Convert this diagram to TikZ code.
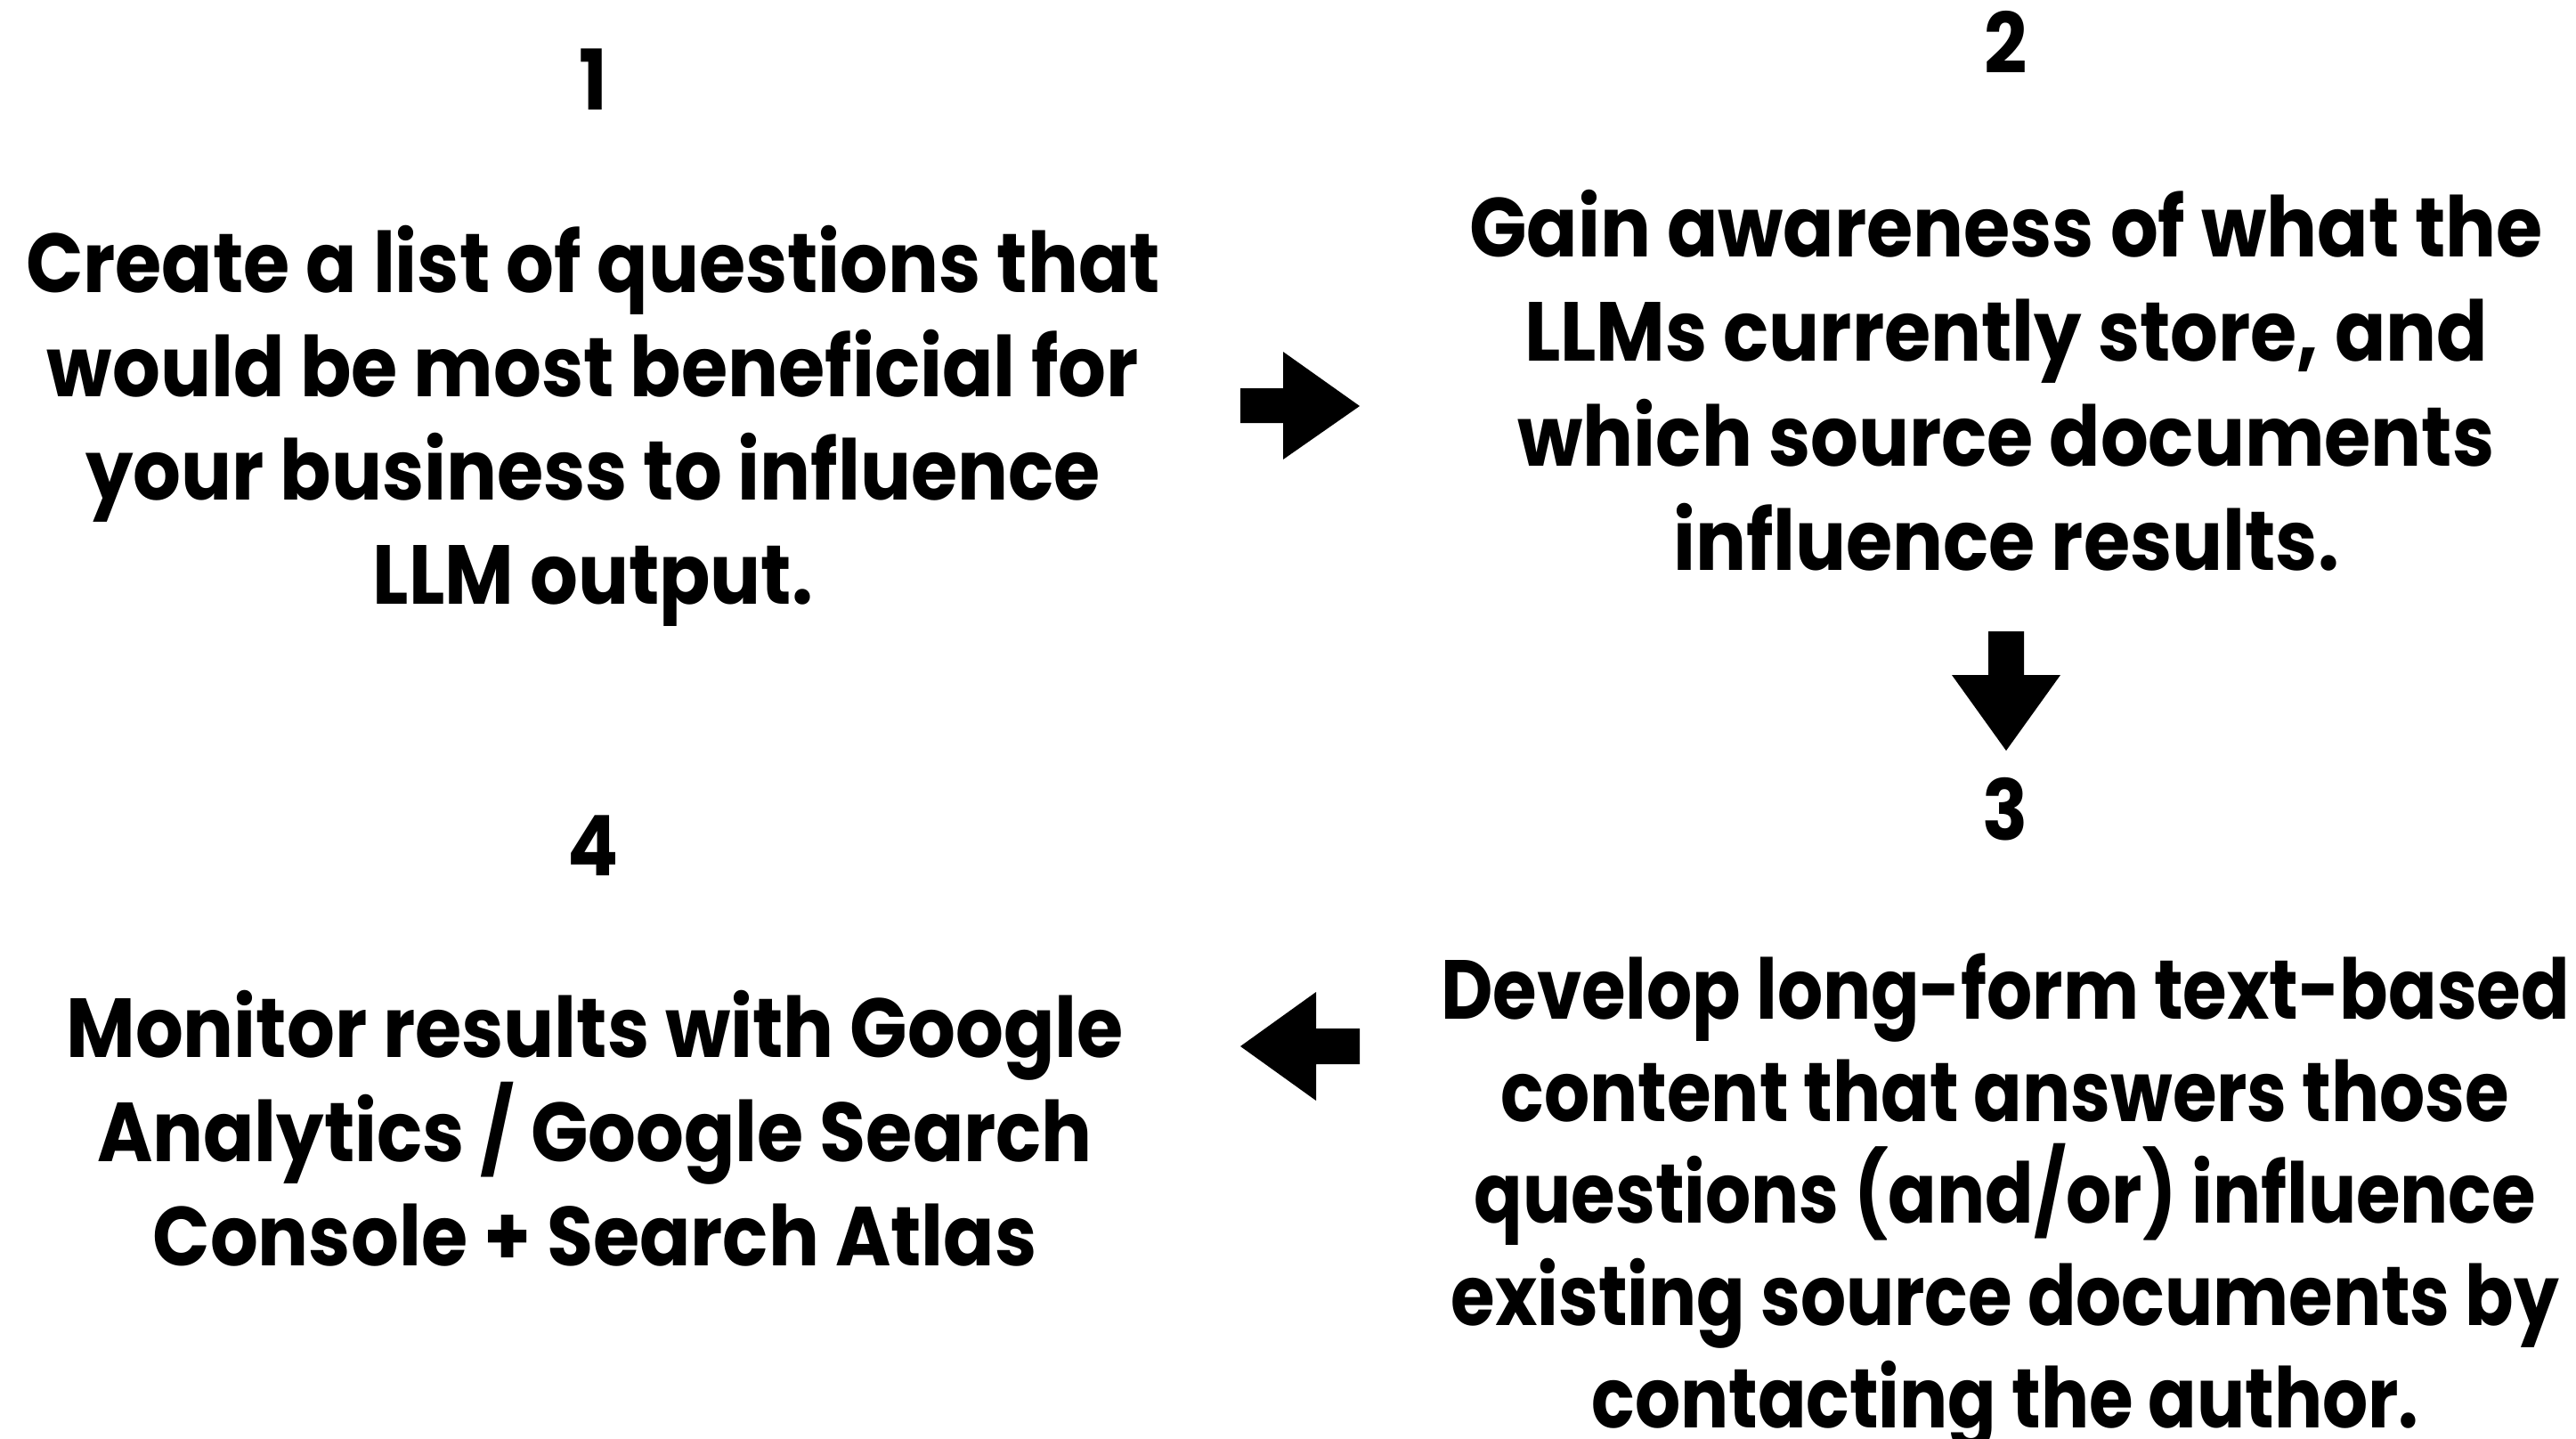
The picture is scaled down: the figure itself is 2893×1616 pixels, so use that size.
\documentclass[tikz,border=0pt]{standalone}
\usepackage{fontspec}
\setmainfont{Poppins}[FakeStretch=0.9]
\newfontfamily\popnarrow{Poppins}[FakeStretch=0.855]
\begin{document}
\begin{tikzpicture}[x=1pt,y=-1pt,
  txt/.style={font=\fontsize{94}{116.8}\selectfont\bfseries, align=center, inner sep=0pt, anchor=base},
  num/.style={font=\fontsize{94}{116.8}\selectfont\bfseries, inner sep=0pt, anchor=base},
  blockarrow/.style={fill=black, draw=none}]
\useasboundingbox[fill=white] (0,0) rectangle (2893,1616);
\node[num] (n1) at (666,123.6) {1};
\node[num] (n2) at (2253,83) {2};
\node[num] (n3) at (2252,943) {3};
\node[num] (n4) at (666,983) {4};
\node[txt] (t1) at (666,678.6) {Create a list of questions that\\would be most beneficial for\\your business to influence\\LLM output.};
\node[txt, font=\fontsize{94}{117.5}\selectfont\bfseries] (t2) at (2253,640.5) {Gain awareness of what the\\LLMs currently store, and\\which source documents\\influence results.};
\node[txt, font=\fontsize{94}{114.6}\selectfont\popnarrow\bfseries] (t3) at (2252,1603) {Develop long-form text-based\\content that answers those\\questions (and/or) influence\\existing source documents by\\contacting the author.};
\node[txt] (t4) at (668,1421.5) {Monitor results with Google\\Analytics / Google Search\\Console + Search Atlas};
\fill[blockarrow] (1393,436)--(1441,436)--(1441,395)--(1527,456)--(1441,516)--(1441,475)--(1393,475)--cycle;
\fill[blockarrow] (2233,709)--(2273,709)--(2273,758)--(2314,758)--(2253,843)--(2192,758)--(2233,758)--cycle;
\fill[blockarrow] (1393,1175)--(1478,1114)--(1478,1155)--(1527,1155)--(1527,1195)--(1478,1195)--(1478,1236)--cycle;
\end{tikzpicture}
\end{document}
